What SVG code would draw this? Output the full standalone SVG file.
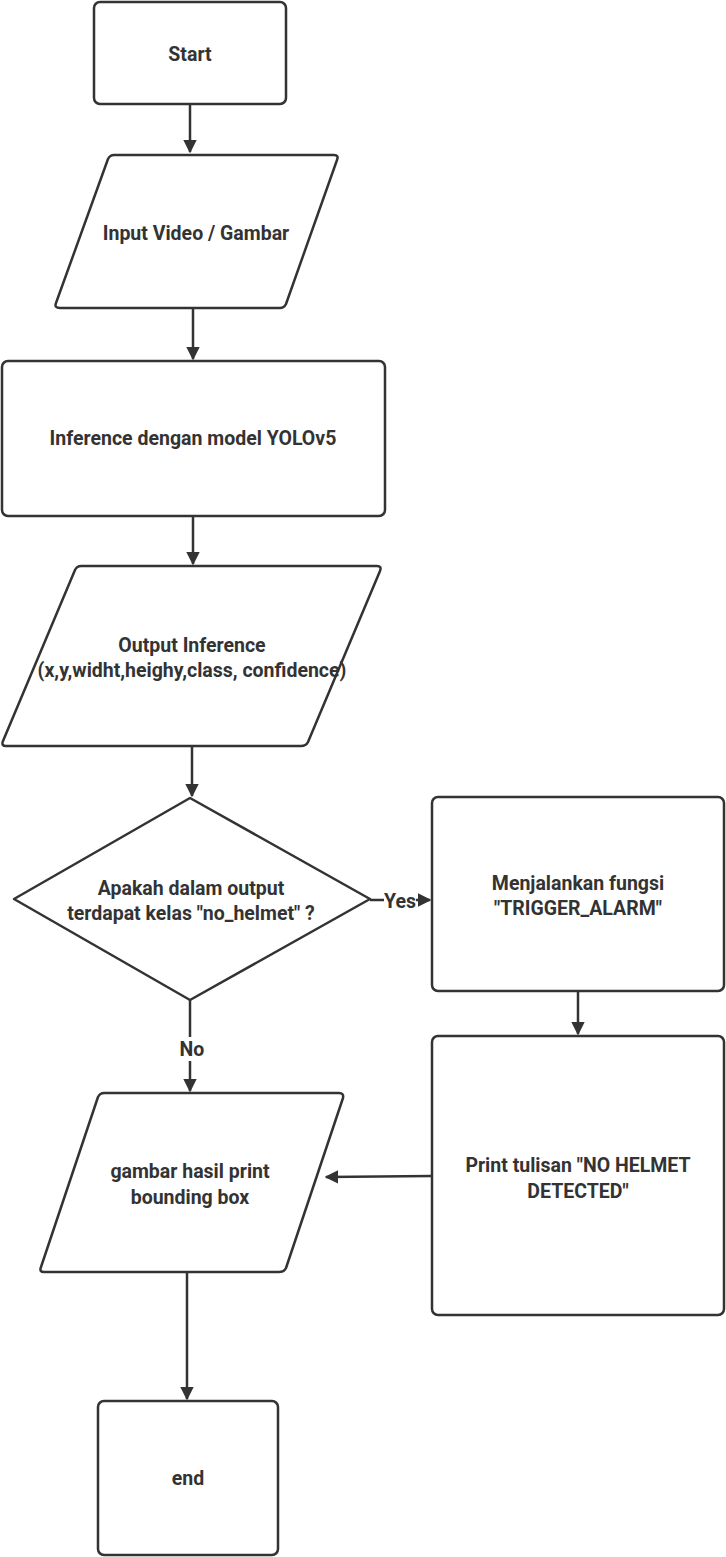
<svg xmlns="http://www.w3.org/2000/svg" width="726" height="1557" viewBox="0 0 726 1557">
<defs>
<style>
.s{fill:#fff;stroke:#333;stroke-width:2.5;stroke-linejoin:round}
.t{font-family:Roboto,"Liberation Sans",sans-serif;font-weight:bold;font-size:19.5px;fill:#333;text-anchor:middle;dominant-baseline:central}
.c{fill:none;stroke:#333;stroke-width:2.5}
</style>
<marker id="ah" viewBox="0 0 10 10" refX="9" refY="5" markerWidth="5.5" markerHeight="5.5" orient="auto" markerUnits="strokeWidth">
<path d="M0,0 L10,5 L0,10 z" fill="#333"/>
</marker>
</defs>
<rect width="726" height="1557" fill="#fff"/>
<g id="connectors">
<path class="c" d="M190,104 L190,152" marker-end="url(#ah)"/>
<path class="c" d="M193,308 L193,359" marker-end="url(#ah)"/>
<path class="c" d="M193,516 L193,564" marker-end="url(#ah)"/>
<path class="c" d="M192,746 L192,796" marker-end="url(#ah)"/>
<path class="c" d="M370,900 L430,900" marker-end="url(#ah)"/>
<path class="c" d="M578,991 L578,1034" marker-end="url(#ah)"/>
<path class="c" d="M432,1176 L326,1177" marker-end="url(#ah)"/>
<path class="c" d="M190,1000 L190,1091" marker-end="url(#ah)"/>
<path class="c" d="M187,1272 L187,1399" marker-end="url(#ah)"/>
<rect x="384" y="890" width="32" height="20" fill="#fff"/>
<text class="t" x="400" y="901">Yes</text>
<rect x="176" y="1037" width="32" height="24" fill="#fff"/>
<text class="t" x="192" y="1049">No</text>
</g>
<g id="start">
<rect class="s" x="94" y="2" width="192" height="102" rx="6"/>
<text class="t" x="190" y="54">Start</text>
</g>
<g id="input">
<path class="s" d="M114,155 L334,155 Q339,155 337,160 L286,304 Q284,308 280,308 L60,308 Q54,308 56,303 L108,159 Q110,155 114,155 Z"/>
<text class="t" x="196" y="233">Input Video / Gambar</text>
</g>
<g id="inference">
<rect class="s" x="2" y="361" width="383" height="155" rx="6"/>
<text class="t" x="193" y="438">Inference dengan model YOLOv5</text>
</g>
<g id="output">
<path class="s" d="M81,566 L377,566 Q382,566 380,571 L308,742 Q306,746 301,746 L6,746 Q1,746 3,741 L75,570 Q77,566 81,566 Z"/>
<text class="t" x="192" y="645">Output Inference</text>
<text class="t" x="192" y="670">(x,y,widht,heighy,class, confidence)</text>
</g>
<g id="decision">
<path class="s" d="M190,798 L370,899 L190,1000 L14,899 Z"/>
<text class="t" x="191" y="888">Apakah dalam output</text>
<text class="t" x="191" y="913">terdapat kelas "no_helmet" ?</text>
</g>
<g id="trigger">
<rect class="s" x="432" y="797" width="292" height="194" rx="6"/>
<text class="t" x="578" y="883">Menjalankan fungsi</text>
<text class="t" x="578" y="908">"TRIGGER_ALARM"</text>
</g>
<g id="print">
<rect class="s" x="432" y="1036" width="292" height="279" rx="6"/>
<text class="t" x="578" y="1165">Print tulisan "NO HELMET</text>
<text class="t" x="578" y="1191">DETECTED"</text>
</g>
<g id="gambar">
<path class="s" d="M104,1093 L339,1093 Q344,1093 343,1098 L286,1268 Q284,1272 279,1272 L44,1272 Q39,1272 41,1267 L98,1097 Q100,1093 104,1093 Z"/>
<text class="t" x="190" y="1171">gambar hasil print</text>
<text class="t" x="190" y="1197">bounding box</text>
</g>
<g id="end">
<rect class="s" x="98" y="1401" width="180" height="154" rx="6"/>
<text class="t" x="188" y="1478">end</text>
</g>
</svg>
